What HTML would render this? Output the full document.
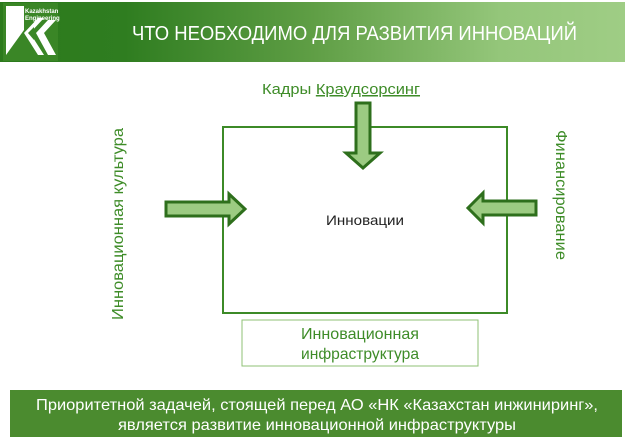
<!DOCTYPE html>
<html><head><meta charset="utf-8"><style>
body{margin:0;width:625px;height:440px;background:#fff;position:relative;overflow:hidden;font-family:"Liberation Sans",sans-serif}
.abs{position:absolute}
</style></head><body>
<div class="abs" style="left:0;top:2px;width:625px;height:60px;background:linear-gradient(90deg,#2c7a1c 0%,#2f7d20 20%,#5f9e45 50%,#94c67a 80%,#9fcd85 100%)"></div>
<svg class="abs" style="left:0;top:0" width="625" height="440">
 <rect x="3" y="3" width="55" height="58" fill="#3a8626"/>
 <polygon points="6,6 24,6 24,30 6,55" fill="#fff"/>
 <polygon points="24,33 38,18 44,18 30,33 44,55 38,55" fill="#fff"/>
 <polygon points="36,33 48,20 56,20 44,33 56,55 48,55" fill="#fff"/>
 <polygon points="28,33 34,27 34,40" fill="#3a8626"/>
 <text x="25" y="13" font-size="6" font-weight="bold" fill="#fff">Kazakhstan</text>
 <text x="25" y="20" font-size="6" font-weight="bold" fill="#fff">Engineering</text>
 <text x="132" y="40" font-size="20" fill="#fff" textLength="445" lengthAdjust="spacingAndGlyphs">ЧТО НЕОБХОДИМО ДЛЯ РАЗВИТИЯ ИННОВАЦИЙ</text>
 <rect x="223" y="127" width="284" height="186" fill="none" stroke="#3c8a27" stroke-width="2"/>
 <rect x="242" y="320" width="236" height="46" fill="#fff" stroke="#8fc275" stroke-width="1"/>
 <text x="360" y="339" font-size="16" fill="#3e8c28" text-anchor="middle" textLength="118" lengthAdjust="spacingAndGlyphs">Инновационная</text>
 <text x="360" y="359" font-size="16" fill="#3e8c28" text-anchor="middle" textLength="118" lengthAdjust="spacingAndGlyphs">инфраструктура</text>
 <text x="365" y="225" font-size="14" fill="#222" text-anchor="middle" textLength="78" lengthAdjust="spacingAndGlyphs">Инновации</text>
 <text x="341" y="94" font-size="15" fill="#3e8c28" text-anchor="middle" textLength="158" lengthAdjust="spacingAndGlyphs">Кадры <tspan text-decoration="underline">Краудсорсинг</tspan></text>
 <g fill="#9ccb82" stroke="#2e6f1c" stroke-width="3" stroke-linejoin="miter">
  <polygon points="356,103 370,103 370,153 380,153 363,168 346,153 356,153"/>
  <polygon points="166,202 229,202 229,194 245,209 229,224 229,216 166,216"/>
  <polygon points="536,201 483,201 483,193 468,208 483,223 483,215 536,215"/>
 </g>
 <text transform="translate(123,224) rotate(-90)" font-size="16" fill="#3e8c28" text-anchor="middle" textLength="192" lengthAdjust="spacingAndGlyphs">Инновационная культура</text>
 <text transform="translate(556,195) rotate(90)" font-size="16" fill="#3e8c28" text-anchor="middle" textLength="130" lengthAdjust="spacingAndGlyphs">Финансирование</text>
 <rect x="10" y="390" width="612" height="47" fill="#4b8b2f"/>
 <text x="317" y="410" font-size="16" fill="#fff" text-anchor="middle" textLength="562" lengthAdjust="spacingAndGlyphs">Приоритетной задачей, стоящей перед АО «НК «Казахстан инжиниринг»,</text>
 <text x="317" y="430" font-size="16" fill="#fff" text-anchor="middle" textLength="398" lengthAdjust="spacingAndGlyphs">является развитие инновационной инфраструктуры</text>
</svg>
</body></html>
